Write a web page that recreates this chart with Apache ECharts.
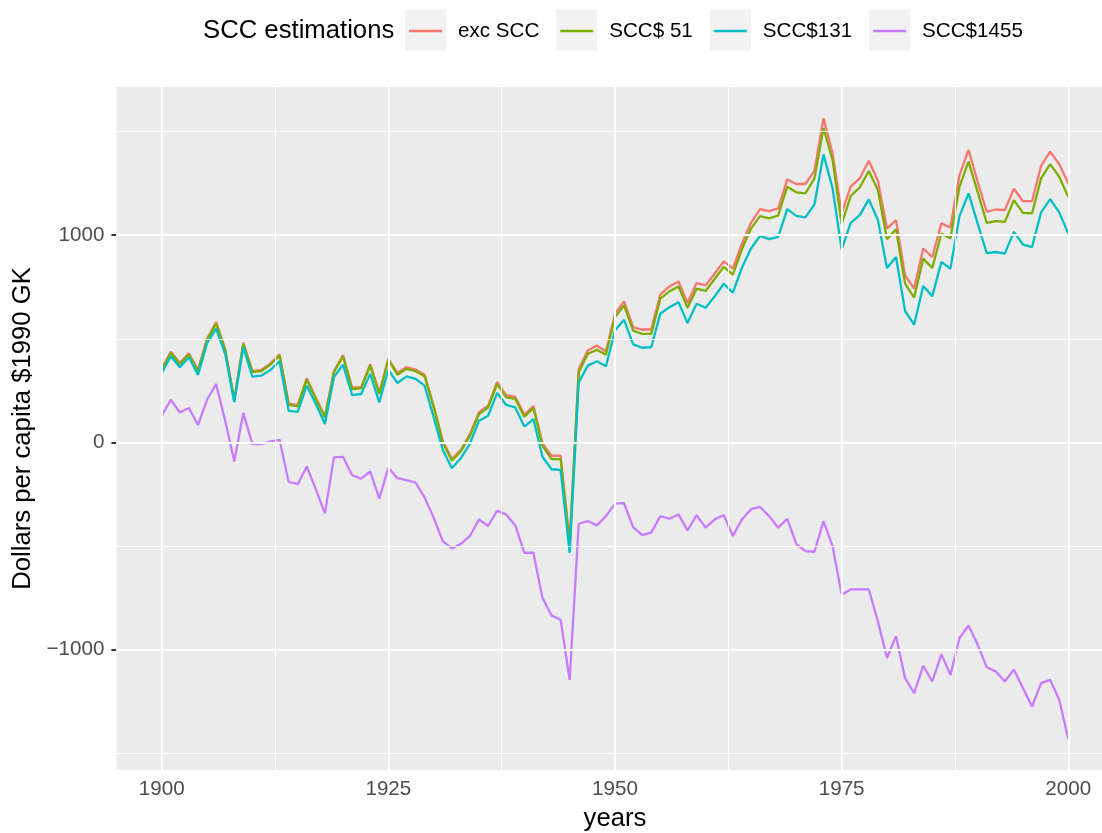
<!DOCTYPE html>
<html>
<head>
<meta charset="utf-8">
<script src="https://cdn.jsdelivr.net/npm/echarts@6/dist/echarts.min.js"></script>
<style>
html,body{margin:0;padding:0;background:#fff;}
#chart{width:1102px;height:833px;}
</style>
</head>
<body>
<div id="chart"></div>
<script>
const years = [1900,1901,1902,1903,1904,1905,1906,1907,1908,1909,1910,1911,1912,1913,1914,1915,1916,1917,1918,1919,
1920,1921,1922,1923,1924,1925,1926,1927,1928,1929,1930,1931,1932,1933,1934,1935,1936,1937,1938,1939,
1940,1941,1942,1943,1944,1945,1946,1947,1948,1949,1950,1951,1952,1953,1954,1955,1956,1957,1958,1959,
1960,1961,1962,1963,1964,1965,1966,1967,1968,1969,1970,1971,1972,1973,1974,1975,1976,1977,1978,1979,
1980,1981,1982,1983,1984,1985,1986,1987,1988,1989,1990,1991,1992,1993,1994,1995,1996,1997,1998,1999,2000];

const excSCC = [355,438,384,430,349,500,581,450,207,482,345,350,382,425,188,181,310,216,127,345,
422,265,268,378,240,405,335,364,352,327,177,8,-80,-35,40,146,178,292,228,220,
134,176,-5,-64,-64,-480,355,444,468,439,621,681,556,545,545,715,753,777,673,769,
758,815,874,839,960,1060,1126,1116,1129,1269,1247,1247,1310,1565,1395,1105,1234,1274,1359,1263,
1032,1073,806,742,936,895,1057,1037,1290,1412,1258,1113,1124,1121,1224,1164,1164,1334,1403,1343,1250];

const scc51 = [350,432,379,424,344,495,573,444,202,476,339,344,376,419,181,174,303,210,121,339,
415,258,261,371,234,398,327,355,344,319,169,0,-88,-42,32,137,169,282,218,210,
124,166,-16,-80,-80,-495,339,428,447,423,605,661,540,524,524,694,729,753,650,742,
731,790,847,810,932,1032,1092,1081,1095,1234,1207,1202,1274,1516,1363,1053,1189,1231,1310,1218,
981,1028,766,699,887,842,1008,984,1234,1355,1209,1060,1068,1064,1169,1108,1105,1274,1343,1282,1185];

const scc131 = [334,416,363,411,326,479,549,428,194,460,318,323,350,392,153,148,274,186,89,315,
376,229,234,331,194,352,287,319,307,274,121,-35,-124,-76,-5,105,129,239,181,169,
77,113,-69,-129,-132,-532,290,371,392,368,540,592,473,457,460,621,653,677,576,669,
650,705,766,723,843,936,997,981,992,1126,1093,1086,1148,1390,1226,931,1060,1097,1173,1073,
842,895,634,568,755,705,871,839,1092,1202,1057,914,919,911,1016,955,943,1110,1174,1110,1008];

const scc1455 = [129,206,145,166,84,206,282,105,-92,142,-8,-8,5,13,-190,-201,-116,-226,-342,-72,
-69,-158,-174,-140,-271,-121,-172,-182,-193,-266,-363,-476,-511,-489,-451,-371,-403,-330,-347,-400,
-532,-532,-750,-834,-855,-1145,-392,-379,-400,-355,-295,-293,-408,-447,-435,-355,-368,-347,-424,-351,
-411,-371,-351,-451,-371,-322,-311,-355,-411,-368,-489,-524,-527,-379,-500,-734,-709,-709,-709,-863,
-1040,-935,-1137,-1209,-1077,-1153,-1021,-1121,-943,-883,-975,-1084,-1104,-1153,-1096,-1185,-1274,-1161,-1145,-1241,-1430];

const seriesNames = ['exc SCC', 'SCC$ 51', 'SCC$131', 'SCC$1455'];
const seriesValues = [excSCC, scc51, scc131, scc1455];
const seriesColors = ['#F8766D', '#7CAE00', '#00BFC4', '#C77CFF'];

const xTickValues = [1900, 1925, 1950, 1975, 2000];
const xMinorGrid = [1912.5, 1937.5, 1962.5, 1987.5];
const yTickValues = [-1000, 0, 1000];
const yMinorGrid = [-1500, -500, 500, 1500];

const FONT = "'Liberation Sans', Arial, Helvetica, sans-serif";
const chart = echarts.init(document.getElementById('chart'), null, {renderer: 'canvas'});

const gridLineData = []
  .concat(yMinorGrid.map(v => ({yAxis: v, lineStyle: {width: 1.1}})))
  .concat(xMinorGrid.map(v => ({xAxis: v, lineStyle: {width: 1.1}})))
  .concat(yTickValues.map(v => ({yAxis: v, lineStyle: {width: 2.1}})))
  .concat(xTickValues.map(v => ({xAxis: v, lineStyle: {width: 2.1}})));

const series = [{
  name: '__grid',
  type: 'line',
  data: [],
  z: 1,
  silent: true,
  animation: false,
  markLine: {
    silent: true,
    animation: false,
    symbol: ['none', 'none'],
    label: {show: false},
    emphasis: {disabled: true},
    lineStyle: {color: '#FFFFFF', type: 'solid', opacity: 1},
    data: gridLineData
  }
}].concat(seriesNames.map((name, i) => ({
  name: name,
  type: 'line',
  data: years.map((y, j) => [y, seriesValues[i][j]]),
  symbol: 'none',
  showSymbol: false,
  z: 3,
  animation: false,
  itemStyle: {color: seriesColors[i]},
  lineStyle: {color: seriesColors[i], width: 2.3},
  emphasis: {disabled: true}
})));

const legendText = {fontFamily: FONT, fontSize: 20.6, color: '#000000'};

chart.setOption({
  backgroundColor: '#FFFFFF',
  animation: false,
  textStyle: {fontFamily: FONT},
  title: {
    text: 'SCC estimations',
    left: 203,
    top: 18,
    padding: 0,
    textStyle: {fontFamily: FONT, fontSize: 25.7, fontWeight: 'normal', color: '#000000'}
  },
  legend: [{
    left: 405,
    top: 9.5,
    padding: 0,
    orient: 'horizontal',
    selectedMode: false,
    itemWidth: 41,
    itemHeight: 41,
    itemGap: 17,
    icon: 'rect',
    itemStyle: {color: '#F2F2F2', borderWidth: 0},
    data: seriesNames.map(n => ({name: n, icon: 'rect', itemStyle: {color: '#F2F2F2', borderWidth: 0}})),
    textStyle: Object.assign({}, legendText, {color: 'rgba(0,0,0,0)', padding: [0, 0, 0, 7]})
  }, {
    left: 409,
    top: 20.5,
    padding: 0,
    orient: 'horizontal',
    selectedMode: false,
    itemWidth: 33,
    itemHeight: 2.3,
    itemGap: 21,
    icon: 'rect',
    data: seriesNames.map((n, i) => ({name: n, icon: 'rect', itemStyle: {color: seriesColors[i], borderWidth: 0}})),
    textStyle: Object.assign({}, legendText, {padding: [0, 0, 0, 11]})
  }],
  grid: {
    left: 116.4,
    top: 87,
    width: 997.2,
    height: 683,
    show: true,
    backgroundColor: '#EBEBEB',
    borderWidth: 0,
    containLabel: false,
    outerBoundsMode: 'none'
  },
  xAxis: {
    type: 'value',
    min: 1895,
    max: 2005,
    name: 'years',
    nameLocation: 'middle',
    nameGap: 36,
    nameTextStyle: {fontFamily: FONT, fontSize: 25.7, color: '#000000'},
    axisLine: {show: false},
    axisTick: {show: true, length: 5, lineStyle: {color: '#333333', width: 2}, customValues: xTickValues},
    axisLabel: {show: true, customValues: xTickValues, margin: 9, fontFamily: FONT, fontSize: 20.6, color: '#4D4D4D',
      formatter: v => String(v)},
    splitLine: {show: false},
    minorSplitLine: {show: false}
  },
  yAxis: {
    type: 'value',
    min: -1580,
    max: 1715,
    name: 'Dollars per capita $1990 GK',
    nameLocation: 'middle',
    nameGap: 76,
    nameRotate: 90,
    nameTextStyle: {fontFamily: FONT, fontSize: 25.7, color: '#000000'},
    axisLine: {show: false},
    axisTick: {show: true, length: 5, lineStyle: {color: '#333333', width: 2}, customValues: yTickValues},
    axisLabel: {show: true, customValues: yTickValues, margin: 12, fontFamily: FONT, fontSize: 20.6, color: '#4D4D4D',
      formatter: v => (v < 0 ? '\u2212' + Math.abs(v) : String(v))},
    splitLine: {show: false}
  },
  series: series
});
</script>
</body>
</html>
